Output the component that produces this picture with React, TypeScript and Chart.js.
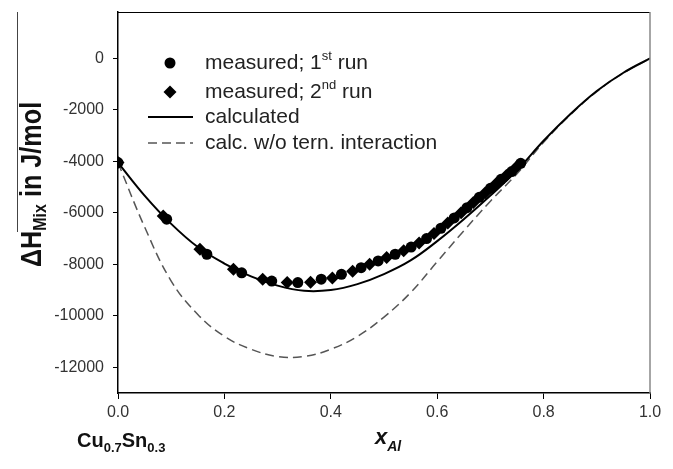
import React, { useEffect, useRef } from "react";
import { Chart, registerables } from "chart.js";

Chart.register(...registerables);

// Calculated curves
const X_CALC = [0, 0.05, 0.1, 0.15, 0.2, 0.25, 0.3, 0.35, 0.4, 0.45, 0.5, 0.55, 0.6, 0.65, 0.7, 0.75, 0.8, 0.85, 0.9, 0.95, 1.0];
const Y_CALC = [-4050, -5330, -6430, -7330, -7970, -8470, -8830, -9030, -9000, -8770, -8380, -7850, -7100, -6250, -5330, -4350, -3200, -2170, -1270, -560, 0];
const Y_NOTERN = [-4050, -6550, -8650, -9950, -10800, -11300, -11580, -11580, -11300, -10800, -10050, -9100, -7900, -6700, -5550, -4480, -3260, -2200, -1290, -570, 0];

// Measured, 1st run (circles)
const X_RUN1 = [0, 0.0915, 0.167, 0.2325, 0.289, 0.338, 0.382, 0.42, 0.457, 0.489, 0.521, 0.551, 0.58, 0.607, 0.632, 0.656, 0.679, 0.7, 0.72, 0.74, 0.757];
const Y_RUN1 = [-4050, -6250, -7610, -8330, -8650, -8710, -8580, -8390, -8130, -7870, -7610, -7330, -7000, -6600, -6200, -5800, -5400, -5050, -4700, -4400, -4080];

// Measured, 2nd run (diamonds)
const X_RUN2 = [0, 0.085, 0.154, 0.217, 0.272, 0.318, 0.362, 0.403, 0.441, 0.473, 0.505, 0.537, 0.566, 0.594, 0.62, 0.645, 0.668, 0.69, 0.71, 0.73, 0.75];
const Y_RUN2 = [-4050, -6125, -7420, -8190, -8580, -8710, -8700, -8530, -8270, -8000, -7740, -7470, -7170, -6800, -6400, -6000, -5600, -5230, -4880, -4550, -4200];

const X_TICKS = [0, 0.2, 0.4, 0.6, 0.8, 1.0];
const Y_TICKS = [0, -2000, -4000, -6000, -8000, -10000, -12000];

const FAMILY = '"Liberation Sans", Arial, sans-serif';

type Part = { t: string; font: string; dy: number };

function drawRich(ctx: CanvasRenderingContext2D, x: number, y: number, parts: Part[]) {
  let cx = x;
  for (const p of parts) {
    ctx.font = p.font;
    ctx.fillText(p.t, cx, y + p.dy);
    cx += ctx.measureText(p.t).width;
  }
}

const decorPlugin = {
  id: "decor",
  afterDraw(chart: any) {
    const ctx: CanvasRenderingContext2D = chart.ctx;
    const a = chart.chartArea;
    ctx.save();
    // top and right frame
    ctx.strokeStyle = "#000";
    ctx.lineWidth = 1;
    ctx.beginPath();
    ctx.moveTo(a.left, a.top + 0.5);
    ctx.lineTo(a.right, a.top + 0.5);
    ctx.stroke();
    ctx.strokeStyle = "#888";
    ctx.lineWidth = 1.5;
    ctx.beginPath();
    ctx.moveTo(a.right, a.top);
    ctx.lineTo(a.right, a.bottom);
    ctx.stroke();

    // legend
    ctx.fillStyle = "#222";
    ctx.textBaseline = "middle";
    const lx = 205;
    const rows = [63, 92, 117, 143];
    const big = `21px ${FAMILY}`;
    const sup = `13px ${FAMILY}`;
    drawRich(ctx, lx, rows[0], [
      { t: "measured; 1", font: big, dy: 0 },
      { t: "st", font: sup, dy: -7 },
      { t: " run", font: big, dy: 0 },
    ]);
    drawRich(ctx, lx, rows[1], [
      { t: "measured; 2", font: big, dy: 0 },
      { t: "nd", font: sup, dy: -7 },
      { t: " run", font: big, dy: 0 },
    ]);
    drawRich(ctx, lx, rows[2], [{ t: "calculated", font: big, dy: 0 }]);
    drawRich(ctx, lx, rows[3], [{ t: "calc. w/o tern. interaction", font: big, dy: 0 }]);
    // legend symbols
    ctx.fillStyle = "#000";
    ctx.beginPath();
    ctx.arc(170, rows[0], 5.5, 0, Math.PI * 2);
    ctx.fill();
    ctx.beginPath();
    ctx.moveTo(170, rows[1] - 6.5);
    ctx.lineTo(176.5, rows[1]);
    ctx.lineTo(170, rows[1] + 6.5);
    ctx.lineTo(163.5, rows[1]);
    ctx.closePath();
    ctx.fill();
    ctx.strokeStyle = "#000";
    ctx.lineWidth = 2;
    ctx.beginPath();
    ctx.moveTo(148, rows[2]);
    ctx.lineTo(193, rows[2]);
    ctx.stroke();
    ctx.strokeStyle = "#555";
    ctx.lineWidth = 1.5;
    ctx.setLineDash([9, 5]);
    ctx.beginPath();
    ctx.moveTo(148, rows[3]);
    ctx.lineTo(193, rows[3]);
    ctx.stroke();
    ctx.setLineDash([]);

    // x-axis labels
    ctx.fillStyle = "#111";
    ctx.textBaseline = "alphabetic";
    drawRich(ctx, 77, 447, [
      { t: "Cu", font: `bold 20px ${FAMILY}`, dy: 0 },
      { t: "0.7", font: `bold 13px ${FAMILY}`, dy: 5 },
      { t: "Sn", font: `bold 20px ${FAMILY}`, dy: 0 },
      { t: "0.3", font: `bold 13px ${FAMILY}`, dy: 5 },
    ]);
    drawRich(ctx, 375, 444, [
      { t: "x", font: `italic bold 22px ${FAMILY}`, dy: 0 },
      { t: "Al", font: `italic bold 14px ${FAMILY}`, dy: 7 },
    ]);

    // y-axis title (rotated)
    ctx.save();
    ctx.translate(41, 267);
    ctx.rotate(-Math.PI / 2);
    ctx.scale(0.84, 1);
    drawRich(ctx, 0, 0, [
      { t: "\u0394H", font: `bold 30px ${FAMILY}`, dy: 0 },
      { t: "Mix", font: `bold 19px ${FAMILY}`, dy: 5 },
      { t: " in J/mol", font: `bold 30px ${FAMILY}`, dy: 0 },
    ]);
    ctx.restore();
    // overline artifact
    ctx.strokeStyle = "#444";
    ctx.lineWidth = 1;
    ctx.beginPath();
    ctx.moveTo(17.5, 12);
    ctx.lineTo(17.5, 232);
    ctx.stroke();
    ctx.restore();
  },
};

export default function App() {
  const ref = useRef<HTMLCanvasElement | null>(null);
  useEffect(() => {
    if (!ref.current) return;
    const pts = (xs: number[], ys: number[]) => xs.map((x, i) => ({ x, y: ys[i] }));
    const chart = new Chart(ref.current, {
      type: "scatter",
      data: {
        datasets: [
          {
            label: "measured; 1st run",
            data: pts(X_RUN1, Y_RUN1),
            pointStyle: "circle",
            pointRadius: 5.5,
            backgroundColor: "#000",
            borderColor: "#000",
            borderWidth: 0,
            showLine: false,
          },
          {
            label: "measured; 2nd run",
            data: pts(X_RUN2, Y_RUN2),
            pointStyle: "rectRot",
            pointRadius: 6.5,
            backgroundColor: "#000",
            borderColor: "#000",
            borderWidth: 0,
            showLine: false,
          },
          {
            type: "line",
            label: "calculated",
            data: pts(X_CALC, Y_CALC),
            borderColor: "#000",
            borderWidth: 2,
            pointRadius: 0,
            tension: 0.4,
            fill: false,
          } as any,
          {
            type: "line",
            label: "calc. w/o tern. interaction",
            data: pts(X_CALC, Y_NOTERN),
            borderColor: "#555",
            borderWidth: 1.5,
            borderDash: [9, 5],
            pointRadius: 0,
            tension: 0.4,
            fill: false,
          } as any,
        ],
      },
      options: {
        responsive: false,
        animation: false,
        devicePixelRatio: 1,
        layout: { padding: { top: 12, right: 23, left: 0, bottom: 0 } },
        plugins: { legend: { display: false }, tooltip: { enabled: false } },
        scales: {
          x: {
            type: "linear",
            min: 0,
            max: 1,
            afterBuildTicks: (s: any) => {
              s.ticks = X_TICKS.map((v) => ({ value: v }));
            },
            afterFit: (s: any) => {
              s.height = 76;
              s.paddingLeft = 0;
              s.paddingRight = 0;
            },
            grid: { drawOnChartArea: false, drawTicks: true, tickLength: 6, color: "#000", lineWidth: 1 },
            border: { display: true, color: "#000", width: 1.5 },
            ticks: {
              color: "#333",
              font: { family: FAMILY, size: 16 },
              padding: 4,
              maxRotation: 0,
              callback: (v: any) => Number(v).toFixed(1),
            },
          },
          y: {
            type: "linear",
            min: -13000,
            max: 1800,
            afterBuildTicks: (s: any) => {
              s.ticks = Y_TICKS.map((v) => ({ value: v }));
            },
            afterFit: (s: any) => {
              s.width = 118;
              s.paddingTop = 0;
              s.paddingBottom = 0;
            },
            grid: { drawOnChartArea: false, drawTicks: true, tickLength: 5, color: "#000", lineWidth: 1 },
            border: { display: true, color: "#000", width: 1.5 },
            ticks: {
              color: "#333",
              font: { family: FAMILY, size: 16 },
              padding: 9,
              callback: (v: any) => String(v),
            },
          },
        },
      },
      plugins: [decorPlugin],
    });
    return () => chart.destroy();
  }, []);
  return (
    <div style={{ position: "fixed", left: 0, top: 0, width: 673, height: 469, background: "#fff" }}>
      <canvas ref={ref} width={673} height={469} style={{ display: "block" }} />
    </div>
  );
}
